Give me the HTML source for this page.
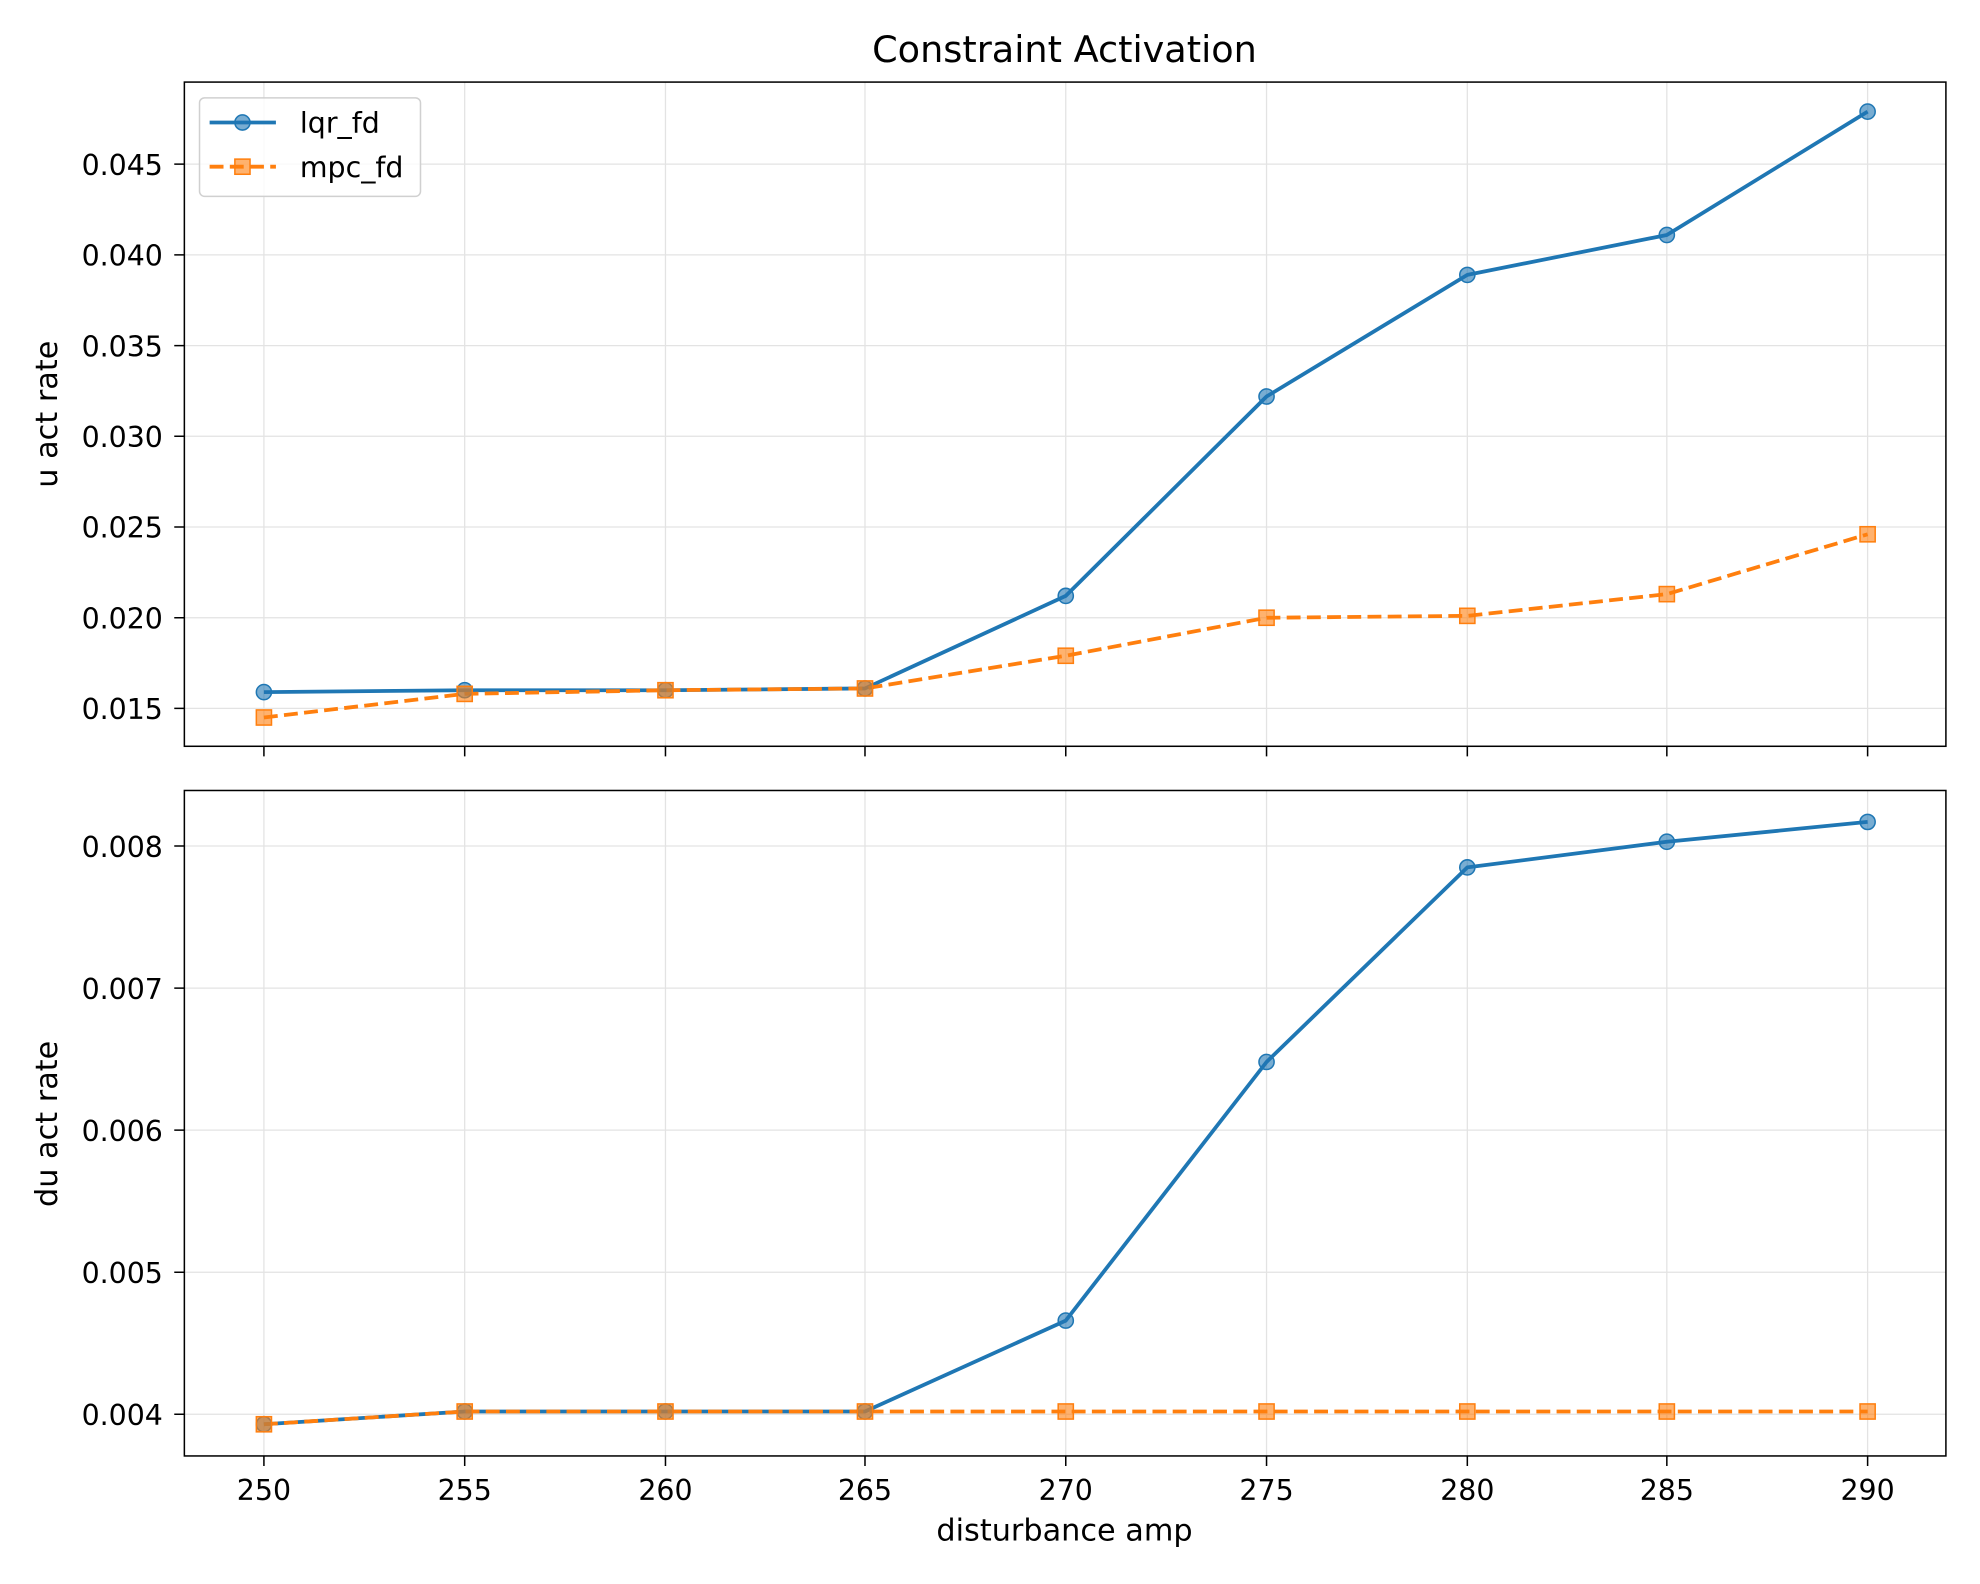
<!DOCTYPE html><html><head><style>body{margin:0;background:#fff}svg{display:block}text{font-family:"DejaVu Sans","Liberation Sans",sans-serif;fill:#000}</style></head><body>
<svg width="1980" height="1584" viewBox="0 0 1568 1254.4" xmlns="http://www.w3.org/2000/svg">
<rect width="1568" height="1254.4" fill="#fff"/>
<text x="843" y="49" font-size="29" text-anchor="middle">Constraint Activation</text>
<g stroke="#e3e3e3" stroke-width="1">
<path d="M209 65V591M368 65V591M527 65V591M685 65V591M844 65V591M1003 65V591M1162 65V591M1320 65V591M1479 65V591"/>
<path d="M146 561H1541M146 489.2H1541M146 417.3H1541M146 345.5H1541M146 273.7H1541M146 201.8H1541M146 130H1541"/>
<path d="M209 626V1153M368 626V1153M527 626V1153M685 626V1153M844 626V1153M1003 626V1153M1162 626V1153M1320 626V1153M1479 626V1153"/>
<path d="M146 1120H1541M146 1007.5H1541M146 895H1541M146 782.5H1541M146 670H1541"/>
</g>
<g stroke="#000" stroke-width="1.2">
<path d="M138 561h8M138 489.2h8M138 417.3h8M138 345.5h8M138 273.7h8M138 201.8h8M138 130h8"/>
<path d="M138 1120h8M138 1007.5h8M138 895h8M138 782.5h8M138 670h8"/>
<path d="M209 591v8M368 591v8M527 591v8M685 591v8M844 591v8M1003 591v8M1162 591v8M1320 591v8M1479 591v8"/>
<path d="M209 1153v8M368 1153v8M527 1153v8M685 1153v8M844 1153v8M1003 1153v8M1162 1153v8M1320 1153v8M1479 1153v8"/>
</g>
<g font-size="22.5" text-anchor="end">
<text x="129" y="569.5">0.015</text><text x="129" y="497.7">0.020</text><text x="129" y="425.8">0.025</text><text x="129" y="354">0.030</text><text x="129" y="282.2">0.035</text><text x="129" y="210.3">0.040</text><text x="129" y="138.5">0.045</text>
<text x="129" y="1128.5">0.004</text><text x="129" y="1016">0.005</text><text x="129" y="903.5">0.006</text><text x="129" y="791">0.007</text><text x="129" y="678.5">0.008</text>
</g>
<g font-size="22.5" text-anchor="middle">
<text x="209" y="1188">250</text><text x="368" y="1188">255</text><text x="527" y="1188">260</text><text x="685" y="1188">265</text><text x="844" y="1188">270</text><text x="1003" y="1188">275</text><text x="1162" y="1188">280</text><text x="1320" y="1188">285</text><text x="1479" y="1188">290</text>
</g>
<g font-size="24" text-anchor="middle">
<text x="843" y="1220">disturbance amp</text>
<text transform="translate(45 328) rotate(-90)">u act rate</text>
<text transform="translate(45 890) rotate(-90)">du act rate</text>
</g>
<g fill="none" stroke-linejoin="round">
<polyline stroke="#1f77b4" stroke-width="3" points="209,548.1 368,546.6 527,546.6 685,545.2 844,471.9 1003,314 1162,217.7 1320,186.1 1479,88.4"/>
<polyline stroke="#ff7f0e" stroke-width="3" stroke-dasharray="11,5" points="209,568.2 368,549.5 527,546.6 685,545.2 844,519.3 1003,489.2 1162,487.7 1320,470.5 1479,423.1"/>
<polyline stroke="#1f77b4" stroke-width="3" points="209,1127.9 368,1117.8 527,1117.8 685,1117.8 844,1045.8 1003,841 1162,686.9 1320,666.6 1479,650.9"/>
<polyline stroke="#ff7f0e" stroke-width="3" stroke-dasharray="11,5" points="209,1127.9 368,1117.8 527,1117.8 685,1117.8 844,1117.8 1003,1117.8 1162,1117.8 1320,1117.8 1479,1117.8"/>
</g>
<g fill="#1f77b4" fill-opacity="0.6" stroke="#1f77b4" stroke-width="1.2">
<circle cx="209" cy="548.1" r="6"/><circle cx="368" cy="546.6" r="6"/><circle cx="527" cy="546.6" r="6"/><circle cx="685" cy="545.2" r="6"/><circle cx="844" cy="471.9" r="6"/><circle cx="1003" cy="314" r="6"/><circle cx="1162" cy="217.7" r="6"/><circle cx="1320" cy="186.1" r="6"/><circle cx="1479" cy="88.4" r="6"/>
<circle cx="209" cy="1127.9" r="6"/><circle cx="368" cy="1117.8" r="6"/><circle cx="527" cy="1117.8" r="6"/><circle cx="685" cy="1117.8" r="6"/><circle cx="844" cy="1045.8" r="6"/><circle cx="1003" cy="841" r="6"/><circle cx="1162" cy="686.9" r="6"/><circle cx="1320" cy="666.6" r="6"/><circle cx="1479" cy="650.9" r="6"/>
</g>
<g fill="#ff7f0e" fill-opacity="0.6" stroke="#ff7f0e" stroke-width="1.2">
<rect x="203" y="562.2" width="12" height="12"/><rect x="362" y="543.5" width="12" height="12"/><rect x="521" y="540.6" width="12" height="12"/><rect x="679" y="539.2" width="12" height="12"/><rect x="838" y="513.3" width="12" height="12"/><rect x="997" y="483.2" width="12" height="12"/><rect x="1156" y="481.7" width="12" height="12"/><rect x="1314" y="464.5" width="12" height="12"/><rect x="1473" y="417.1" width="12" height="12"/>
<rect x="203" y="1121.9" width="12" height="12"/><rect x="362" y="1111.8" width="12" height="12"/><rect x="521" y="1111.8" width="12" height="12"/><rect x="679" y="1111.8" width="12" height="12"/><rect x="838" y="1111.8" width="12" height="12"/><rect x="997" y="1111.8" width="12" height="12"/><rect x="1156" y="1111.8" width="12" height="12"/><rect x="1314" y="1111.8" width="12" height="12"/><rect x="1473" y="1111.8" width="12" height="12"/>
</g>
<rect x="158" y="77.5" width="175" height="78" rx="4" fill="#fff" fill-opacity="0.8" stroke="#d0d0d0" stroke-width="1.2"/>
<path d="M166 97H218.5" stroke="#1f77b4" stroke-width="3"/>
<circle cx="192" cy="97" r="6" fill="#1f77b4" fill-opacity="0.6" stroke="#1f77b4" stroke-width="1.2"/>
<path d="M166 132H218.5" stroke="#ff7f0e" stroke-width="3" stroke-dasharray="11,5"/>
<rect x="186" y="126" width="12" height="12" fill="#ff7f0e" fill-opacity="0.6" stroke="#ff7f0e" stroke-width="1.2"/>
<text x="237.5" y="105" font-size="22.5">lqr_fd</text>
<text x="237.5" y="140" font-size="22.5">mpc_fd</text>
<g fill="none" stroke="#000" stroke-width="1.2">
<rect x="146" y="65" width="1395" height="526"/>
<rect x="146" y="626" width="1395" height="527"/>
</g>
</svg></body></html>
